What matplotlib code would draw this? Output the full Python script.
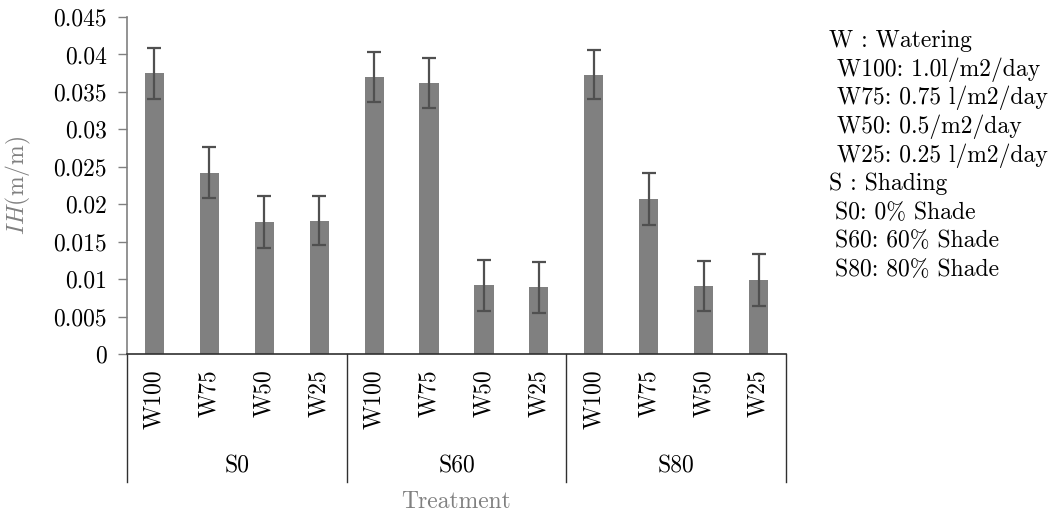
import matplotlib
matplotlib.use("Agg")
import matplotlib.pyplot as plt
import numpy as np

plt.rcParams['font.family'] = ['cmr10', 'DejaVu Serif']
plt.rcParams['mathtext.fontset'] = 'cm'
plt.rcParams['axes.unicode_minus'] = False

# data
shades = ["S0", "S60", "S80"]
waterings = ["W100", "W75", "W50", "W25"]
ih_mean = [0.0375, 0.0242, 0.0176, 0.0178,
           0.0370, 0.0362, 0.0092, 0.0089,
           0.0373, 0.0207, 0.0091, 0.0099]
ih_err = [0.0034, 0.0034, 0.0035, 0.0033,
          0.0033, 0.0033, 0.0034, 0.0034,
          0.0033, 0.0035, 0.0033, 0.0035]
y_ticks = [0, 0.005, 0.01, 0.015, 0.02, 0.025, 0.03, 0.035, 0.04, 0.045]
y_tick_labels = ["0", "0.005", "0.01", "0.015", "0.02", "0.025", "0.03",
                 "0.035", "0.04", "0.045"]
legend_lines = [("W : Watering", 0), ("W100: 1.0l/m2/day", 1),
                ("W75: 0.75 l/m2/day", 1), ("W50: 0.5/m2/day", 1),
                ("W25: 0.25 l/m2/day", 1), ("S : Shading", 0),
                ("S0: 0% Shade", 0.8), ("S60: 60% Shade", 0.8), ("S80: 80% Shade", 0.8)]

FS = 17
W, H, DPI = 1054, 517, 100
fig = plt.figure(figsize=(W / DPI, H / DPI), dpi=DPI)
ax = fig.add_axes([127 / W, 1 - 354 / H, (786 - 127) / W, (354 - 17) / H])

x = np.arange(len(ih_mean))
ax.bar(x, ih_mean, width=0.35, color="#808080", zorder=2)
ax.errorbar(x, ih_mean, yerr=ih_err, fmt="none", ecolor="#505050",
            elinewidth=1.6, capsize=5, capthick=1.6, zorder=3)

ax.set_xlim(-0.5, len(ih_mean) - 0.5)
ax.set_ylim(0, 0.045)
ax.set_yticks(y_ticks)
ax.set_yticklabels(y_tick_labels, fontsize=FS)
ax.tick_params(axis="y", direction="out", length=6.5, width=1, color="#808080", pad=8)

ax.set_xticks(x)
ax.set_xticklabels(waterings * len(shades), rotation=90, fontsize=FS, va="top")
ax.tick_params(axis="x", length=0, pad=11)

for s in ["top", "right"]:
    ax.spines[s].set_visible(False)
ax.spines["left"].set_color("#808080")
ax.spines["left"].set_linewidth(1.2)
ax.spines["bottom"].set_color("#303030")
ax.spines["bottom"].set_linewidth(1.2)

# group dividers and group labels below the axis
trans = ax.get_xaxis_transform()
n = len(waterings)
for k in range(len(shades) + 1):
    xd = k * n - 0.5
    ax.plot([xd, xd], [0, -0.38], transform=trans, clip_on=False,
            color="#303030", lw=1.0)
for k, s in enumerate(shades):
    ax.text(k * n + (n - 1) / 2, -0.335, s, transform=trans, ha="center",
            va="center", fontsize=FS)

ax.text((len(ih_mean) - 1) / 2, -0.44, "Treatment", transform=trans,
        ha="center", va="center", fontsize=FS, color="#808080")

ax.set_ylabel(r"$\mathit{IH}$(m/m)", fontsize=FS, color="#808080")
ax.yaxis.set_label_coords(-0.143, 0.5)

# notes at the right
y0 = 41
for i, (txt, indent) in enumerate(legend_lines):
    fig.text((829 + 8 * indent) / W, 1 - (y0 + 28.6 * i) / H, txt,
             ha="left", va="center", fontsize=FS)

fig.savefig("out.png", dpi=DPI)
